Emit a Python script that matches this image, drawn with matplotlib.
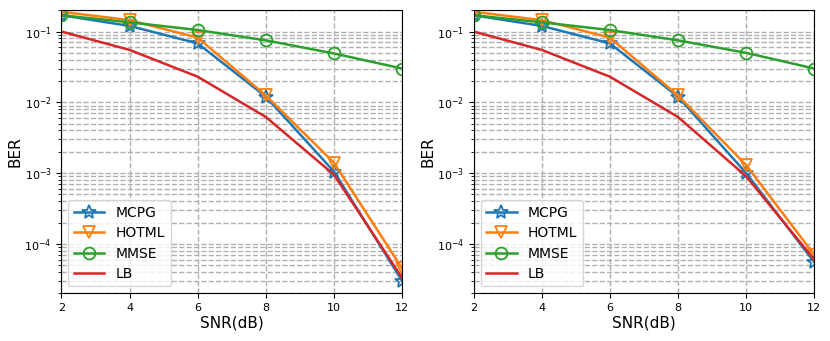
import matplotlib
matplotlib.use('Agg')
import matplotlib.pyplot as plt
import numpy as np

snr = [2, 4, 6, 8, 10, 12]

# 左图
mcpg_a = [0.17, 0.12, 0.068, 0.012, 0.00105, 3.0e-5]
hotml_a = [0.19, 0.145, 0.082, 0.0125, 0.0014, 4.5e-5]
mmse_a = [0.17, 0.135, 0.105, 0.075, 0.049, 0.03]
lb_a = [0.1, 0.055, 0.023, 0.0062, 0.00095, 3.3e-5]

# 右图
mcpg_b = [0.17, 0.12, 0.068, 0.012, 0.001, 5.5e-5]
hotml_b = [0.19, 0.145, 0.082, 0.0125, 0.0013, 7.0e-5]
mmse_b = [0.17, 0.135, 0.105, 0.075, 0.05, 0.03]
lb_b = [0.1, 0.055, 0.023, 0.0062, 0.0009, 6.0e-5]

fig, axes = plt.subplots(1, 2, figsize=(8.3, 3.41), dpi=100)

for ax, (m, h, s, l) in zip(axes, [(mcpg_a, hotml_a, mmse_a, lb_a),
                                   (mcpg_b, hotml_b, mmse_b, lb_b)]):
    ax.semilogy(snr, m, '-*', color='tab:blue', lw=1.8, ms=10, mfc='none', mew=1.3, label='MCPG')
    ax.semilogy(snr, h, '-v', color='tab:orange', lw=1.8, ms=9, mfc='none', mew=1.3, label='HOTML')
    ax.semilogy(snr, s, '-o', color='tab:green', lw=1.8, ms=8.5, mfc='none', mew=1.3, label='MMSE')
    ax.semilogy(snr, l, '-', color='tab:red', lw=1.8, label='LB')
    ax.set_xlim(2, 12)
    ax.set_ylim(2e-5, 0.2)
    ax.set_xticks(snr)
    ax.grid(True, which='both', linestyle='--', color='#b0b0b0', lw=1)
    ax.set_xlabel('SNR(dB)', fontsize=11, labelpad=2)
    ax.set_ylabel('BER', fontsize=11, labelpad=1)
    ax.tick_params(labelsize=8)
    ax.legend(loc='lower left', fontsize=10, handlelength=2.2, labelspacing=0.45)

plt.subplots_adjust(left=0.074, right=0.981, top=0.97, bottom=0.14, wspace=0.21)
plt.savefig('out.png')
